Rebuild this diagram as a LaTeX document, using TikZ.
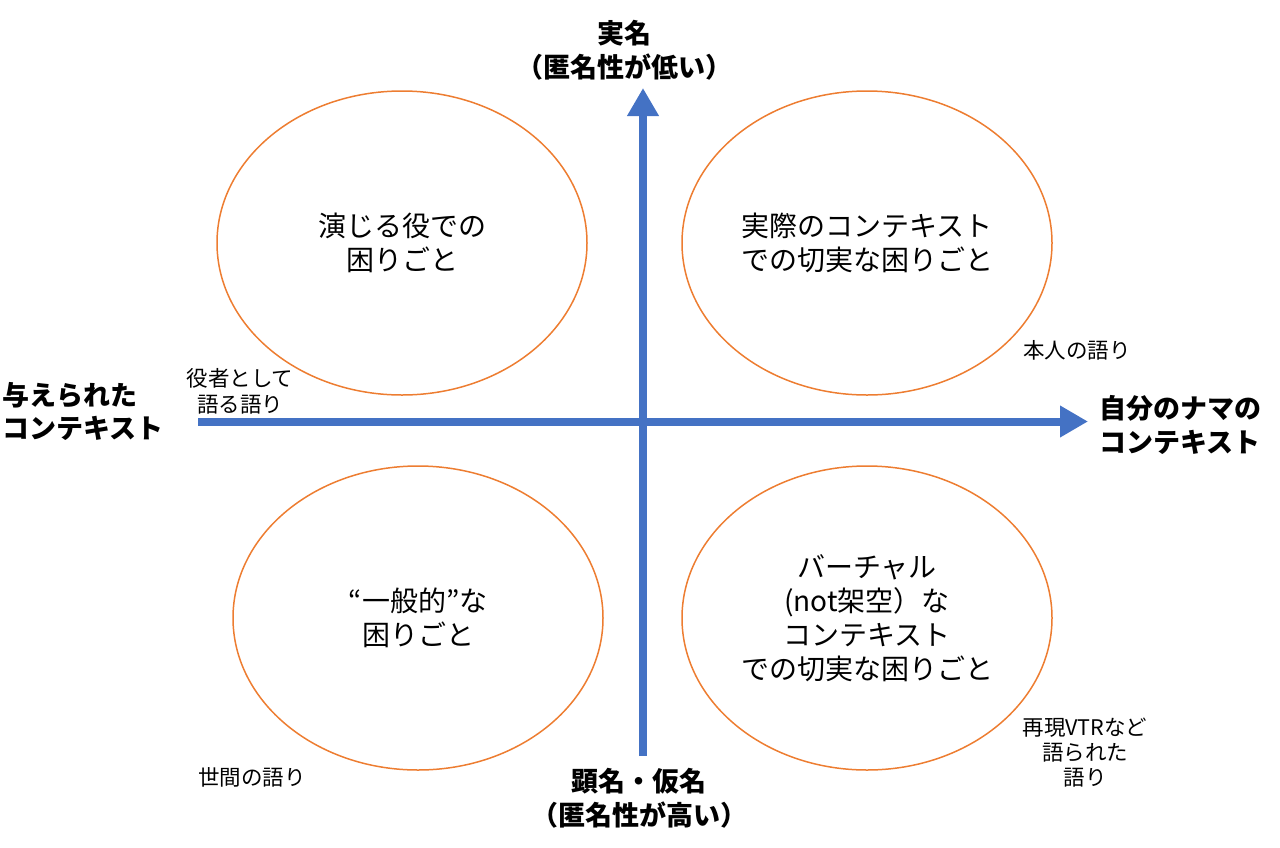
\documentclass[tikz,border=0pt]{standalone}
\usepackage{fontspec}
\setmainfont{Noto Sans CJK JP}
\usetikzlibrary{arrows.meta,shapes.geometric}
\definecolor{axisblue}{HTML}{4472C4}
\definecolor{ellorange}{HTML}{ED7D31}
\tikzset{
  axisline/.style={line width=8pt, draw=axisblue, -{Triangle[length=28pt,width=30pt]}},
  quad/.style={ellipse, draw=ellorange, line width=1.5pt, minimum width=370pt, minimum height=304pt, align=center, inner sep=0pt, font=\fontsize{28}{34}\selectfont},
  axislabel/.style={font=\fontsize{27}{34}\selectfont\bfseries, inner sep=0pt},
  note/.style={font=\fontsize{21.5}{26}\selectfont, align=center, inner sep=0pt}
}
\begin{document}
\begin{tikzpicture}[x=1pt,y=-1pt]
\useasboundingbox (0,0) rectangle (1280,847);
% quadrant ellipses
\node[quad] (tl) at (402,243) {演じる役での\\困りごと};
\node[quad] (tr) at (867,243) {実際のコンテキスト\\での切実な困りごと};
\node[quad] (bl) at (418,618) {“一般的”な\\困りごと};
\node[quad] (br) at (867,618) {バーチャル\\(not架空）な\\コンテキスト\\での切実な困りごと};
% axes
\coordinate (hstart) at (198,421.5);
\coordinate (hend) at (1088,421.5);
\coordinate (vstart) at (643,756);
\coordinate (vend) at (643,88);
\draw[axisline] (hstart) -- (hend);
\draw[axisline] (vstart) -- (vend);
% axis labels
\node[axislabel, align=center] (top) at (624,50) {実名\\（匿名性が低い）};
\node[axislabel, align=center] (bottom) at (639,798) {顕名・仮名\\（匿名性が高い）};
\node[axislabel, align=left, anchor=west, font=\fontsize{27}{33}\selectfont\bfseries] (left) at (2,411) {与えられた\\コンテキスト};
\node[axislabel, align=left, anchor=west] (right) at (1099,425) {自分のナマの\\コンテキスト};
% notes
\node[note] (n1) at (240,391.5) {役者として\\語る語り};
\node[note] (n2) at (1077,350) {本人の語り};
\node[note] (n3) at (252,777) {世間の語り};
\node[note, font=\fontsize{21.5}{25}\selectfont] (n4) at (1085,753) {再現VTRなど\\語られた\\語り};
\end{tikzpicture}
\end{document}
